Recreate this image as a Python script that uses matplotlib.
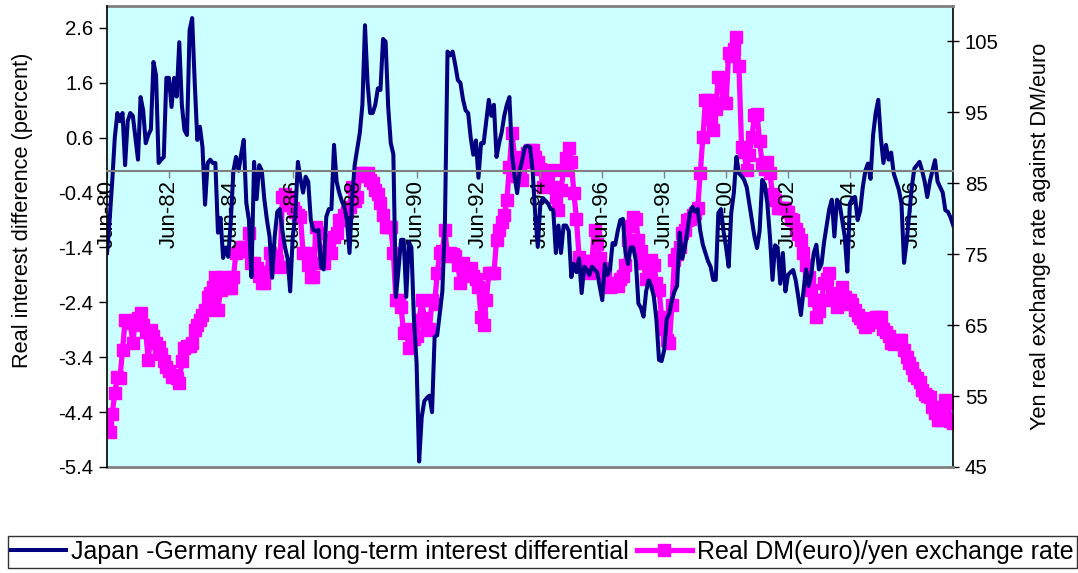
import matplotlib
matplotlib.use("Agg")
import matplotlib.pyplot as plt
from matplotlib.lines import Line2D

plt.rcParams["font.family"] = ["Liberation Sans", "DejaVu Sans"]

# monthly data, Jun-80 .. Oct-07
rate_diff = [
    -1.5, -0.9, -0.2, 0.6, 1.05, 0.9, 1.05,                                   # 1980 Jun-Dec
    0.1, 0.9, 1.05, 1.0, 0.6, 0.2, 1.34, 1.1, 0.5, 0.65, 0.75, 1.98,           # 1981
    1.74, 0.14, 0.2, 0.25, 1.69, 1.69, 1.16, 1.69, 1.35, 2.34, 1.2, 0.74,      # 1982
    0.65, 2.56, 2.78, 1.6, 0.56, 0.8, 0.43, -0.62, 0.14, 0.2, 0.14, 0.14,      # 1983
    -1.13, -0.86, -1.59, -1.4, -1.57, -0.9, 0.0, 0.25, 0.0, 0.3, 0.56, -0.59,  # 1984
    -0.9, -1.94, 0.16, -0.52, 0.1, 0.0, -0.53, -0.9, -1.2, -1.95, -1.2, -0.75, # 1985
    -0.7, -1.1, -1.4, -1.6, -2.2, -1.2, -0.8, 0.16, -0.15, -0.4, -0.11, -0.2,  # 1986
    -0.9, -1.08, -1.1, -1.08, -1.75, -1.8, -0.84, -0.7, -0.7, 0.47, -0.2, -0.4,  # 1987
    -0.55, -0.66, -0.9, -1.5, -0.53, 0.1, 0.4, 0.69, 1.2, 2.65, 1.6, 1.05,     # 1988
    1.05, 1.2, 1.5, 1.47, 2.4, 2.35, 1.16, 0.5, 0.3, -2.3, -1.8, -1.26,        # 1989
    -1.26, -2.3, -1.3, -1.4, -2.72, -3.5, -5.3, -4.49, -4.2, -4.14, -4.1, -4.4,  # 1990
    -3.03, -3.0, -2.6, -2.2, -0.95, 2.17, 2.1, 2.17, 1.93, 1.65, 1.6, 1.3,     # 1991
    1.1, 1.05, 0.6, 0.29, 0.55, -0.13, 0.5, 0.5, 0.9, 1.29, 1.0, 1.2,          # 1992
    0.25, 0.5, 0.7, 1.0, 1.2, 1.34, 0.3, -0.1, -0.41, 0.0, 0.2, 0.43,          # 1993
    0.45, 0.43, 0.0, -0.8, -1.39, -0.6, -0.5, -0.55, -0.6, -0.7, -0.72, -1.5,  # 1994
    -1.0, -1.5, -1.0, -1.0, -1.1, -1.94, -1.7, -1.85, -1.6, -2.23, -1.75, -1.8,  # 1995
    -1.9, -1.75, -1.8, -1.85, -2.1, -2.36, -1.7, -1.9, -1.8, -1.32, -1.35, -1.1,  # 1996
    -0.9, -0.88, -1.5, -1.7, -1.4, -1.4, -1.63, -2.42, -2.5, -2.66, -2.2, -2.0,  # 1997
    -2.1, -2.3, -2.72, -3.45, -3.47, -3.27, -2.7, -2.6, -2.36, -2.2, -2.1, -1.13,  # 1998
    -1.6, -1.4, -1.1, -0.77, -0.66, -0.75, -0.7, -1.1, -1.35, -1.5, -1.65, -1.75,  # 1999
    -1.99, -1.99, -0.77, -0.7, -1.1, -1.4, -1.75, -0.77, -0.41, 0.25, -0.05, -0.1,  # 2000
    -0.17, -0.3, -0.6, -0.9, -1.2, -1.41, -1.1, -0.17, -0.25, -0.6, -1.2, -1.99,  # 2001
    -1.36, -1.4, -2.06, -1.5, -2.2, -1.9, -1.85, -1.81, -2.0, -2.3, -2.63, -2.2,  # 2002
    -1.8, -2.1, -1.9, -1.5, -1.35, -1.8, -1.7, -1.3, -1.0, -0.7, -0.53, -1.2,  # 2003
    -0.53, -0.6, -0.9, -1.2, -1.84, -0.6, -0.5, -0.48, -0.9, -0.73, -0.3, 0.0,  # 2004
    0.13, -0.15, 0.65, 1.05, 1.29, 0.6, 0.14, 0.47, 0.2, 0.33, -0.05, -0.2,    # 2005
    -0.35, -0.6, -1.68, -1.3, -0.8, -0.3, 0.04, 0.1, 0.16, 0.0, -0.2, -0.48,   # 2006
    -0.2, 0.0, 0.19, -0.2, -0.3, -0.4, -0.72, -0.75, -0.85, -0.99,             # 2007 Jan-Oct
]

fx_rate = [
    50.9, 49.9, 52.5, 55.4, 57.7, 57.5, 61.5,                                  # 1980 Jun-Dec
    65.7, 65.5, 65.3, 62.5, 65.7, 66.0, 66.7, 65.0, 64.0, 60.1, 64.3, 63.5,    # 1981
    62.5, 61.9, 61.0, 60.0, 59.1, 58.5, 57.7, 58.0, 57.5, 56.8, 60.0, 61.8,    # 1982
    62.0, 62.0, 62.5, 64.3, 65.0, 65.7, 66.5, 67.1, 68.9, 69.5, 70.4, 71.8,    # 1983
    67.1, 70.0, 71.8, 71.5, 70.2, 70.2, 71.8, 75.2, 75.5, 76.0, 76.0, 75.5,    # 1984
    78.0, 73.8, 73.8, 73.0, 72.0, 70.9, 70.9, 72.5, 75.2, 74.8, 74.5, 74.0,    # 1985
    73.2, 83.1, 83.5, 83.1, 82.0, 81.5, 81.0, 80.5, 80.2, 75.2, 75.2, 73.5,    # 1986
    71.8, 71.8, 78.9, 78.0, 73.8, 73.8, 75.5, 77.0, 75.2, 77.5, 78.0, 79.8,    # 1987
    79.8, 80.5, 81.0, 81.7, 84.5, 82.5, 83.0, 86.4, 86.4, 86.0, 86.4, 85.5,    # 1988
    85.0, 84.0, 83.5, 82.2, 80.5, 78.9, 78.9, 78.9, 75.2, 68.5, 68.5, 67.5,    # 1989
    63.9, 64.5, 61.8, 63.9, 63.0, 63.5, 65.7, 68.5, 66.0, 64.3, 64.5, 68.5,    # 1990
    68.0, 72.3, 75.2, 75.5, 78.4, 74.7, 75.2, 75.0, 74.8, 73.5, 70.9, 73.8,    # 1991
    72.5, 72.5, 73.0, 72.0, 71.5, 70.4, 66.2, 65.0, 68.5, 72.3, 72.3, 72.3,    # 1992
    77.0, 78.4, 79.5, 80.5, 82.6, 87.3, 92.1, 88.7, 86.0, 87.3, 85.5, 88.0,    # 1993
    89.3, 89.7, 89.7, 88.7, 88.0, 87.0, 84.5, 85.5, 86.0, 86.9, 84.5, 83.0,    # 1994
    81.2, 84.0, 86.9, 88.5, 90.0, 88.0, 83.6, 80.0, 74.6, 73.8, 74.0, 74.0,    # 1995
    72.3, 74.0, 78.4, 76.5, 74.5, 73.0, 72.3, 71.0, 70.4, 70.5, 71.0, 70.5,    # 1996
    71.5, 72.0, 73.5, 77.0, 79.0, 80.2, 80.0, 77.0, 75.5, 73.8, 71.5, 73.0,    # 1997
    74.2, 73.5, 71.0, 70.0, 66.2, 64.5, 62.9, 62.5, 67.8, 74.2, 75.0, 76.0,    # 1998
    78.0, 78.4, 79.8, 80.0, 80.5, 80.8, 81.5, 86.4, 91.5, 96.7, 96.7, 94.0,    # 1999
    92.5, 95.5, 100.0, 99.5, 96.3, 96.3, 103.4, 103.0, 104.0, 105.6, 101.5, 90.1,  # 2000
    89.4, 86.9, 89.0, 91.5, 94.6, 94.8, 90.9, 87.7, 87.0, 88.0, 86.4, 83.5,    # 2001
    82.6, 81.5, 81.5, 81.5, 81.5, 81.0, 80.0, 79.8, 78.5, 77.9, 77.0, 75.2,    # 2002
    73.5, 71.8, 70.0, 68.5, 66.2, 67.0, 68.5, 70.9, 71.5, 72.3, 69.5, 68.5,    # 2003
    67.5, 68.0, 70.4, 69.0, 68.5, 68.5, 68.0, 67.1, 66.5, 66.0, 65.5, 64.7,    # 2004
    65.0, 65.5, 66.0, 66.2, 66.2, 66.2, 64.5, 64.0, 63.5, 62.5, 62.3, 62.5,    # 2005
    62.9, 62.9, 61.5, 60.5, 59.6, 59.0, 58.0, 57.5, 57.0, 55.8, 55.3, 55.0,    # 2006
    54.8, 53.5, 52.6, 51.6, 51.6, 51.8, 54.4, 54.0, 51.5, 51.2,                # 2007 Jan-Oct
]

tick_labels = ["Jun-80", "Jun-82", "Jun-84", "Jun-86", "Jun-88", "Jun-90", "Jun-92",
               "Jun-94", "Jun-96", "Jun-98", "Jun-00", "Jun-02", "Jun-04", "Jun-06"]
left_ticks = [-5.4, -4.4, -3.4, -2.4, -1.4, -0.4, 0.6, 1.6, 2.6]
right_ticks = [45, 55, 65, 75, 85, 95, 105]

navy = "#000080"
magenta = "#FF00FF"
grey = "#808080"

months = list(range(len(rate_diff)))

fig = plt.figure(figsize=(10.78, 5.73), dpi=100)
# bottom axes: exchange rate, scale on the right
ax = fig.add_axes([0.0993, 0.185, 0.7848, 0.8045])
ax.set_facecolor("#CCFFFF")
ax.plot(months, fx_rate, color=magenta, lw=3.8, marker="s", ms=8,
        mec=magenta, mfc=magenta)
ax.set_ylim(45, 110)
ax.set_xlim(0, len(months) - 1)

# top axes: interest differential, scale on the left
ax2 = ax.twinx()
ax2.plot(months, rate_diff, color=navy, lw=2.9, zorder=2)
ax2.set_ylim(-5.4, 3.0)
ax2.set_xlim(0, len(months) - 1)

# right scale (after twinx, which resets it to the left)
ax.set_yticks(right_ticks)
ax.yaxis.tick_right()
ax.yaxis.set_label_position("right")
ax.tick_params(axis="y", direction="inout", length=9, width=1.0,
               labelsize=14.7, pad=4)
ax.set_ylabel("Yen real exchange rate against DM/euro", fontsize=15.7)
ax.yaxis.set_label_coords(1.091, 0.5)
ax.tick_params(axis="x", bottom=False, labelbottom=False)
for side in ("top", "bottom"):
    ax.spines[side].set_color(grey)
    ax.spines[side].set_linewidth(2.0)
ax.spines["left"].set_visible(False)
ax.spines["right"].set_color("black")
ax.spines["right"].set_linewidth(1.2)

# left scale
ax2.set_yticks(left_ticks)
ax2.set_yticklabels([f"{t:.1f}" for t in left_ticks])
ax2.yaxis.tick_left()
ax2.yaxis.set_label_position("left")
ax2.tick_params(axis="y", direction="out", length=6, width=1.0,
                labelsize=14.7, pad=4)
ax2.set_ylabel("Real interest difference (percent)", fontsize=15.7)
ax2.yaxis.set_label_coords(-0.087, 0.557)

# category axis crossing at zero
ax2.xaxis.set_visible(True)
ax2.set_xticks(range(0, len(months), 24))
ax2.set_xticklabels(tick_labels)
ax2.tick_params(axis="x", bottom=True, labelbottom=True, direction="out",
                length=5, width=1.0, pad=2, color=grey,
                labelrotation=90, labelsize=16)
ax2.spines["bottom"].set_position(("data", 0))
ax2.spines["bottom"].set_color(grey)
ax2.spines["bottom"].set_linewidth(1.5)
ax2.spines["left"].set_color("black")
ax2.spines["left"].set_linewidth(1.2)
ax2.spines["top"].set_visible(False)
ax2.spines["right"].set_visible(False)

handles = [
    Line2D([], [], color=navy, lw=2.9),
    Line2D([], [], color=magenta, lw=3.8, marker="s", ms=8),
]
labels = ["Japan -Germany real long-term interest differential",
          "Real DM(euro)/yen exchange rate"]
leg = fig.legend(handles, labels, loc="center", bbox_to_anchor=(0.503, 0.037),
                 ncol=2, fontsize=18, frameon=True, fancybox=False,
                 edgecolor="black", handlelength=2.2, handletextpad=0.2,
                 columnspacing=0.3, borderpad=0.15, borderaxespad=0)
leg.get_frame().set_linewidth(1.0)

fig.savefig("out.png", dpi=100)
